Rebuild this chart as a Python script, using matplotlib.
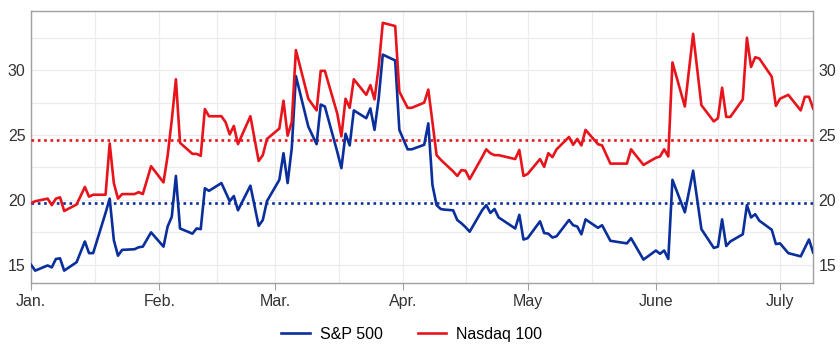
import matplotlib
matplotlib.use("Agg")
import matplotlib.pyplot as plt
from matplotlib.ticker import MultipleLocator
import pandas as pd

# ============================================================
# Data
# ============================================================

start = "2022-01-01"

# days since Jan. 1 of each point
days = [
    0, 1, 4, 5, 6, 7, 8, 11, 13, 14, 15, 18, 19, 20, 21, 22, 25, 26, 27, 29,
    32, 33, 34, 35, 36, 39, 40, 41, 42, 43, 46, 47, 48, 49, 50, 53, 55, 56, 57,
    60, 61, 62, 63, 64, 67, 69, 70, 71, 74, 75, 76, 77, 78, 81, 82, 83, 84, 85,
    88, 89, 91, 92, 95, 96, 97, 98, 99, 100, 102, 103, 104, 105, 106, 109, 110,
    111, 112, 113, 117, 118, 119, 120, 123, 124, 125, 126, 127, 130, 131, 132,
    133, 134, 137, 138, 140, 144, 145, 148, 151, 152, 153, 154, 155, 158, 160,
    162, 165, 166, 167, 168, 169, 172, 173, 174, 175, 176, 179, 180, 181, 183,
    186, 187, 188, 189,
]

spx = [
    15.0, 14.55, 14.95, 14.8, 15.45, 15.5, 14.55, 15.2, 16.8, 15.9, 15.9, 19.0,
    20.1, 16.9, 15.7, 16.15, 16.2, 16.35, 16.4, 17.5,
    16.4, 17.95, 18.7, 21.85, 17.8, 17.4, 17.8, 17.75, 20.9, 20.7, 21.3, 20.6,
    19.9, 20.3, 19.2, 21.1, 18.0, 18.45, 19.9,
    21.55, 23.6, 21.3, 24.0, 29.55, 25.65, 24.3, 27.35, 27.2, 23.7, 22.45, 25.1,
    24.2, 26.9, 26.3, 27.05, 25.4, 27.8, 31.2,
    30.75, 25.4, 23.9, 23.9, 24.25, 25.9, 21.15, 19.6, 19.3, 19.25, 19.2, 18.45,
    18.2, 17.9, 17.55, 19.2, 19.6,
    19.0, 19.3, 18.65, 17.8, 18.85, 16.95, 17.05, 18.35, 17.45, 17.4, 17.1,
    17.2, 18.45, 18.05, 17.95,
    17.35, 18.5, 17.85, 18.05, 16.85, 16.65, 17.05, 15.4, 16.1, 15.85, 16.1,
    15.45, 21.55, 19.05, 22.25,
    17.75, 16.3, 16.4, 18.5, 16.45, 16.8, 17.35, 19.6, 18.65, 18.9, 18.4, 17.7,
    16.6, 16.65, 15.9,
    15.65, 16.3, 16.95, 15.95,
]

ndx = [
    19.75, 19.9, 20.1, 19.6, 20.1, 20.2, 19.15, 19.65, 21.0, 20.25, 20.4, 20.4,
    24.35, 21.3, 20.1, 20.45, 20.45, 20.6, 20.45, 22.6,
    21.35, 23.4, 26.15, 29.3, 24.4, 23.55, 23.55, 23.4, 27.0, 26.45, 26.45,
    26.0, 25.05, 25.7, 24.3, 26.45, 23.0, 23.45, 24.7,
    25.5, 27.65, 24.95, 26.0, 31.55, 27.8, 26.9, 29.95, 29.95, 26.65, 24.9,
    27.8, 27.1, 29.3, 28.1, 28.85, 27.75, 30.25, 33.65,
    33.4, 28.35, 27.1, 27.1, 27.5, 28.5, 26.0, 23.45, 23.1, 22.8, 22.2, 21.85,
    22.3, 22.25, 21.6, 23.3, 23.9,
    23.6, 23.45, 23.45, 23.15, 23.85, 21.85, 22.0, 23.15, 22.55, 23.6, 23.3,
    23.9, 24.85, 24.25, 24.7,
    24.2, 25.4, 24.3, 24.2, 22.8, 22.8, 23.9, 22.7, 23.25, 23.35, 23.9, 23.35,
    30.6, 27.2, 32.8,
    27.3, 26.05, 26.3, 28.65, 26.4, 26.4, 27.75, 32.5, 30.25, 31.0, 30.9, 29.5,
    27.25, 27.8, 28.1,
    26.9, 27.95, 27.95, 27.05,
]

spx_avg = 19.75
ndx_avg = 24.65

month_labels = ["Jan.", "Feb.", "Mar.", "Apr.", "May", "June", "July"]

# ============================================================
# Graph
# ============================================================

BLUE = "#0a2f9c"
RED = "#e8141c"
GRID = "#ececec"

plt.rcParams["font.family"] = ["Liberation Sans", "DejaVu Sans"]

dates = pd.Timestamp(start) + pd.to_timedelta(days, unit="D")
months = pd.date_range(start, periods=len(month_labels), freq="MS")
mids = months[:-1] + (months[1:] - months[:-1]) / 2

fig = plt.figure(figsize=(8.4, 3.6), dpi=100)
ax = fig.add_axes([0.037, 0.214, 0.931, 0.755])

ax.plot(dates, spx, color=BLUE, lw=1.9, label="S&P 500", zorder=4)
ax.plot(dates, ndx, color=RED, lw=1.9, label="Nasdaq 100", zorder=4)
ax.axhline(spx_avg, color=BLUE, lw=1.9, ls=(0, (1, 1.4)), zorder=3)
ax.axhline(ndx_avg, color=RED, lw=1.9, ls=(0, (1, 1.4)), zorder=3)

ax.set_xlim(dates[0], dates[-1])
ax.set_ylim(13.6, 34.55)

ax.set_xticks(months)
ax.set_xticklabels(month_labels)
ax.set_xticks(mids, minor=True)
ax.yaxis.set_major_locator(MultipleLocator(5))
ax.yaxis.set_minor_locator(MultipleLocator(2.5))

ax.grid(True, which="both", color=GRID, lw=0.9, zorder=0)
ax.set_axisbelow(True)

for s in ax.spines.values():
    s.set_color("#a0a0a0")
    s.set_linewidth(1.0)

ax.tick_params(axis="x", which="major", length=5, color="#a0a0a0",
               labelsize=11.5, labelcolor="#333333", pad=3)
ax.tick_params(axis="x", which="minor", length=0)
ax.tick_params(axis="y", which="both", length=0, labelsize=11.5,
               labelcolor="#333333", labelright=True, pad=4)

fig.legend(loc="center", bbox_to_anchor=(0.49, 0.072), ncol=2, frameon=False,
           fontsize=11.5, handlelength=1.8, columnspacing=2.2,
           handletextpad=0.6)

fig.savefig("out.png", dpi=100)
